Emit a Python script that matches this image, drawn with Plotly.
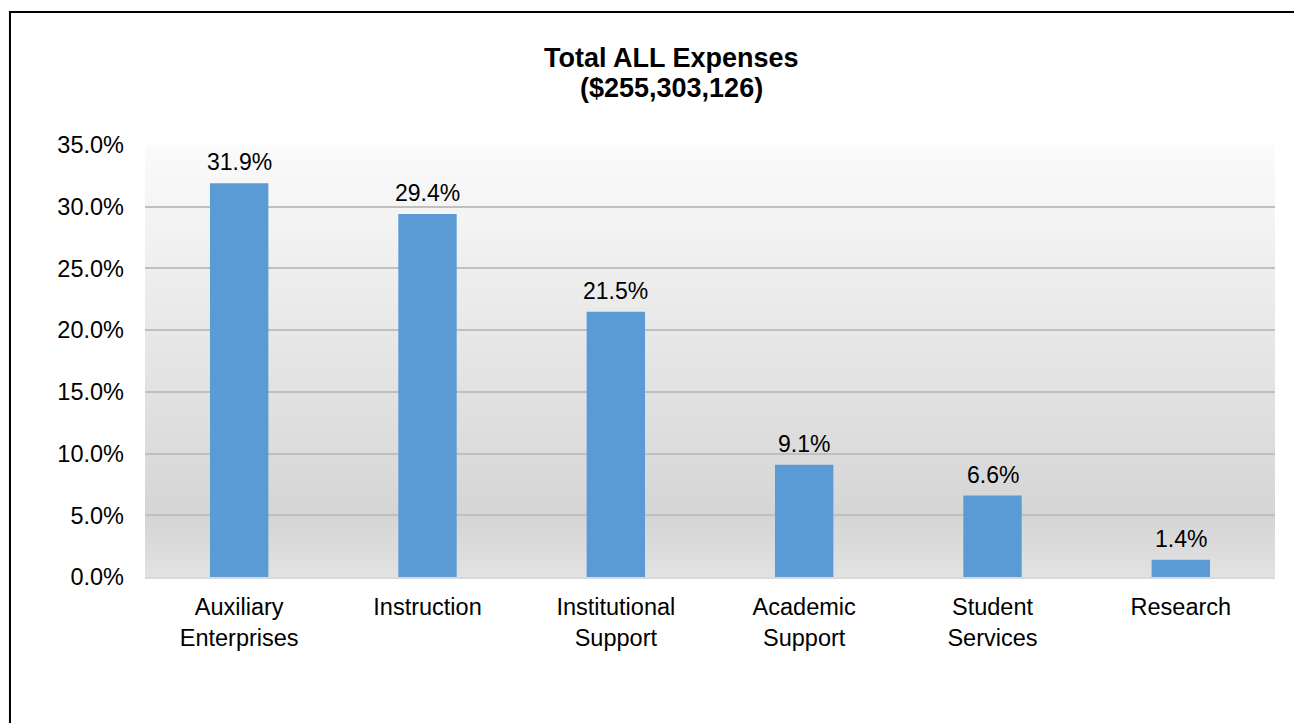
import plotly.graph_objects as go

# chart data
categories = ["Auxiliary<br>Enterprises", "Instruction", "Institutional<br>Support",
              "Academic<br>Support", "Student<br>Services", "Research"]
shares = [31.9, 29.4, 21.5, 9.1, 6.6, 1.4]
title_line1 = "Total ALL Expenses"
title_line2 = "($255,303,126)"

FONT = "Liberation Sans, Arial, sans-serif"
BLUE = "#5b9bd5"
OFF = 8  # page body margin offsets the figure


def mix(c1, c2, t):
    return "rgb({},{},{})".format(*[round(a + (b - a) * t) for a, b in zip(c1, c2)])


# vertical gradient behind the plot area (top -> bottom)
stops = [(0.0, (251, 251, 251)), (0.86, (213, 213, 213)), (1.0, (226, 226, 226))]
bands = 216
shapes = []
for i in range(bands):
    f = (i + 0.5) / bands  # fraction from top
    for (p0, c0), (p1, c1) in zip(stops[:-1], stops[1:]):
        if p0 <= f <= p1:
            col = mix(c0, c1, (f - p0) / (p1 - p0))
            break
    shapes.append(dict(type="rect", xref="x domain", yref="y domain",
                       x0=0, x1=1, y0=1 - (i + 1) / bands, y1=1 - i / bands,
                       fillcolor=col, line=dict(width=0), layer="below"))

# outer chart border (runs off the right and bottom edges)
shapes.append(dict(type="rect", xref="paper", yref="paper",
                   x0=-0.1195, x1=1.04, y0=-0.4, y1=1.308,
                   line=dict(color="black", width=2), fillcolor="rgba(0,0,0,0)"))

# value labels above bars
annotations = [
    dict(x=c, y=v, xref="x", yref="y", text=f"{v:.1f}%", showarrow=False,
         yanchor="bottom", yshift=6, font=dict(family=FONT, size=23, color="#000000"))
    for c, v in zip(categories, shares)
]
annotations += [
    dict(text=f"<b>{title_line1}</b>", xref="paper", yref="paper",
         x=(671 - 145) / 1130, y=(577 - 58) / 432, showarrow=False,
         font=dict(family=FONT, size=27, color="#000000"),
         xanchor="center", yanchor="middle"),
    dict(text=f"<b>{title_line2}</b>", xref="paper", yref="paper",
         x=(671 - 145) / 1130, y=(577 - 88) / 432, showarrow=False,
         font=dict(family=FONT, size=27, color="#000000"),
         xanchor="center", yanchor="middle"),
]

fig = go.Figure()
fig.add_trace(go.Bar(
    x=categories, y=shares,
    marker=dict(color=BLUE, line=dict(width=0)),
))

fig.update_layout(
    width=1302, height=723,
    margin=dict(l=145 - OFF, r=27 + OFF, t=145 - OFF, b=146 + OFF),
    paper_bgcolor="white", plot_bgcolor="rgba(0,0,0,0)",
    bargap=0.69, showlegend=False,
    font=dict(family=FONT, size=23, color="#000000"),
    shapes=shapes,
    annotations=annotations,
)

fig.update_xaxes(showgrid=False, showline=True, linecolor="#d9d9d9", linewidth=2,
                 ticks="", tickfont=dict(family=FONT, size=23.5, color="#000000"),
                 ticklabelstandoff=8)
fig.update_yaxes(range=[0, 35], dtick=5, tickformat=".1f", ticksuffix="%",
                 showgrid=True, gridcolor="#bfbfbf", gridwidth=2,
                 zeroline=False, showline=False, ticks="",
                 tickfont=dict(family=FONT, size=23.5, color="#000000"),
                 ticklabelstandoff=20)

fig.write_html("out.html")
